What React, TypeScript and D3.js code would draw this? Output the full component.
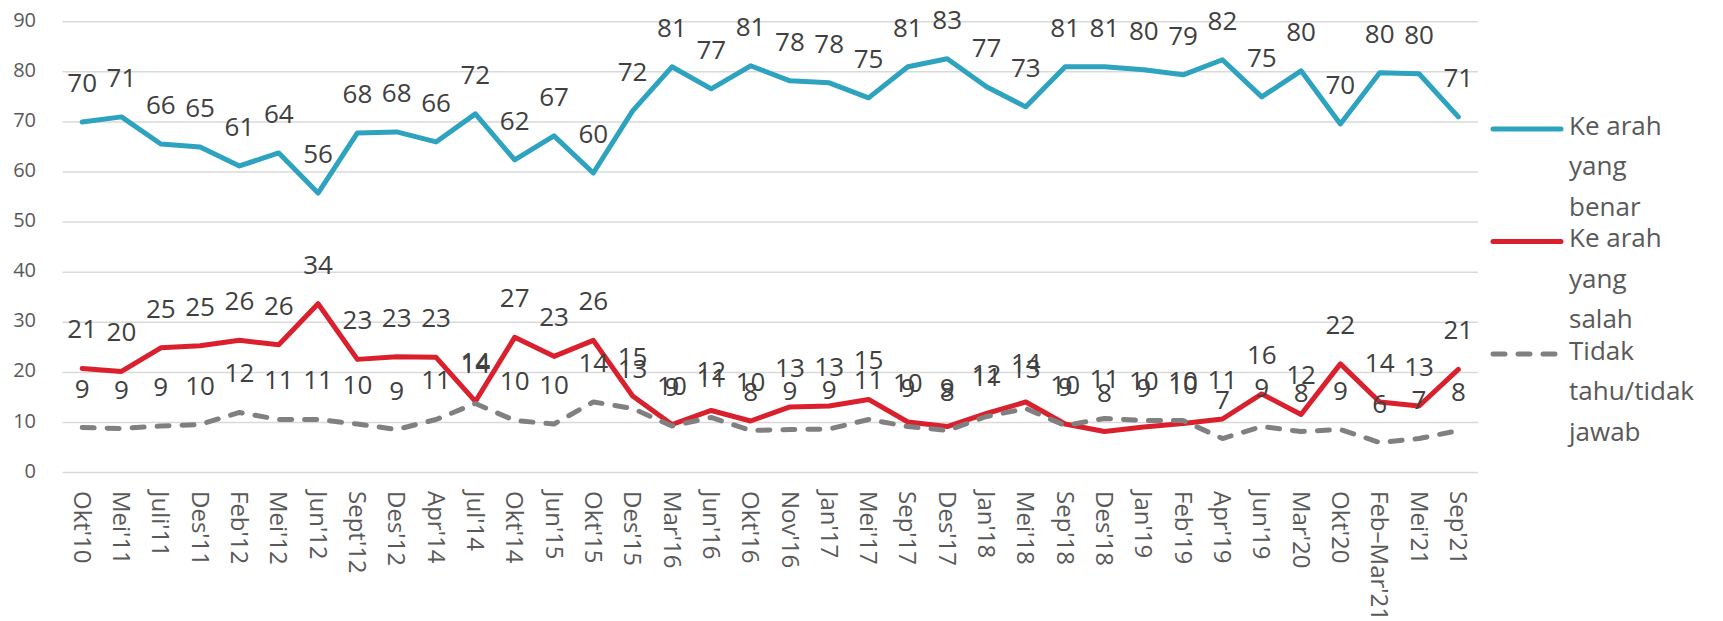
import React from 'react';
import * as d3 from 'd3';

const categories = [
  "Okt'10", "Mei'11", "Juli'11", "Des'11", "Feb'12", "Mei'12", "Jun'12", "Sept'12", "Des'12",
  "Apr'14", "Jul'14", "Okt'14", "Jun'15", "Okt'15", "Des'15", "Mar'16", "Jun'16", "Okt'16",
  "Nov'16", "Jan'17", "Mei'17", "Sep'17", "Des'17", "Jan'18", "Mei'18", "Sep'18", "Des'18",
  "Jan'19", "Feb'19", "Apr'19", "Jun'19", "Mar'20", "Okt'20", "Feb–Mar'21", "Mei'21", "Sep'21",
];

const benar = [
  70.0, 71.0, 65.6, 65.0, 61.2, 63.8, 55.8, 67.8, 68.0, 66.0, 71.6, 62.4, 67.2, 59.8, 72.2, 81.0,
  76.6, 81.2, 78.2, 77.8, 74.8, 81.0, 82.6, 77.0, 73.0, 81.0, 81.0, 80.4, 79.4, 82.4, 75.0, 80.2,
  69.6, 79.8, 79.6, 71.0,
];

const salah = [
  20.8, 20.2, 24.9, 25.3, 26.4, 25.5, 33.7, 22.6, 23.1, 23.0, 14.2, 27.0, 23.2, 26.4, 15.3, 9.6,
  12.4, 10.3, 13.1, 13.3, 14.6, 10.1, 9.2, 11.8, 14.1, 9.7, 8.2, 9.1, 9.8, 10.7, 15.7, 11.6,
  21.7, 14.1, 13.3, 20.6,
];

const tidakTahu = [
  9.0, 8.8, 9.3, 9.6, 12.0, 10.6, 10.6, 9.7, 8.6, 10.6, 13.8, 10.4, 9.7, 14.1, 12.8, 9.3,
  11.0, 8.4, 8.6, 8.7, 10.6, 9.2, 8.4, 11.2, 12.8, 9.4, 10.8, 10.4, 10.4, 6.8, 9.2, 8.2,
  8.6, 6.0, 6.8, 8.4,
];

const yTicks = [0, 10, 20, 30, 40, 50, 60, 70, 80, 90];

const seriesNames = [
  ["Ke arah", "yang", "benar"],
  ["Ke arah", "yang", "salah"],
  ["Tidak", "tahu/tidak", "jawab"],
];
const seriesColors = ["#2EA3C0", "#D9202C", "#808080"];
const seriesDash = [null, null, "12 13"];

const W = 1723;
const H = 621;
const FONT = "'Open Sans', 'Noto Sans', sans-serif";

export default function App() {
  const x = d3.scaleBand<string>().domain(categories).range([62.5, 1478]);
  const y = d3.scaleLinear().domain([0, 90]).range([472.6, 21.7]);
  const cx = (c: string) => (x(c) as number) + x.bandwidth() / 2;
  const line = d3
    .line<number>()
    .x((_, i) => cx(categories[i]))
    .y((d) => y(d));
  const fmt = d3.format('.0f');
  const allSeries = [benar, salah, tidakTahu];

  return (
    <svg
      width={W}
      height={H}
      style={{ position: 'absolute', left: 0, top: 0, background: '#fff' }}
      fontFamily={FONT}
    >
      {yTicks.map((t) => (
        <g key={t}>
          <line x1={62.5} x2={1478} y1={y(t)} y2={y(t)} stroke="#D9D9D9" strokeWidth={1.5} />
          <text x={36} y={y(t) - 2} dy="0.35em" textAnchor="end" fontSize={20} fill="#595959">
            {t}
          </text>
        </g>
      ))}
      {categories.map((c) => (
        <text
          key={c}
          transform={`translate(${cx(c)},491) rotate(90)`}
          dy="0.35em"
          textAnchor="start"
          fontSize={24}
          fill="#595959"
        >
          {c}
        </text>
      ))}
      {allSeries.map((s, k) => (
        <path
          key={k}
          d={line(s) as string}
          fill="none"
          stroke={seriesColors[k]}
          strokeWidth={5}
          strokeLinejoin="round"
          strokeLinecap="round"
          strokeDasharray={seriesDash[k] ?? undefined}
        />
      ))}
      {allSeries.map((s, k) => (
        <g key={'l' + k}>
          {s.map((v, i) => (
            <text
              key={i}
              x={cx(categories[i])}
              y={y(v) - 30}
              textAnchor="middle"
              fontSize={26}
              fill="#404040"
            >
              {fmt(v)}
            </text>
          ))}
        </g>
      ))}
      {seriesNames.map((names, k) => {
        const ly = 129 + k * 112.5;
        return (
          <g key={'lg' + k}>
            <line
              x1={1493}
              x2={1561}
              y1={ly}
              y2={ly}
              stroke={seriesColors[k]}
              strokeWidth={5}
              strokeLinecap="round"
              strokeDasharray={seriesDash[k] ?? undefined}
            />
            {names.map((n, j) => (
              <text key={j} x={1569} y={ly + 5.5 + j * 40.5} fontSize={26} fill="#595959">
                {n}
              </text>
            ))}
          </g>
        );
      })}
    </svg>
  );
}
